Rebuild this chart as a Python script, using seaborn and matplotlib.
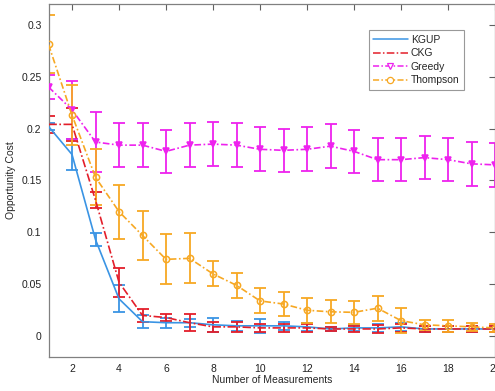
import numpy as np
import pandas as pd
import matplotlib
matplotlib.use("Agg")
import matplotlib.pyplot as plt
import seaborn as sns
from matplotlib.lines import Line2D

sns.set_style("white")
plt.rcParams['font.family'] = ['Liberation Sans', 'DejaVu Sans']

measurements = list(range(1, 21))

kgup_mean = [0.202, 0.175, 0.093, 0.036, 0.014, 0.013, 0.013, 0.011, 0.010, 0.010,
             0.010, 0.009, 0.007, 0.008, 0.008, 0.009, 0.007, 0.007, 0.007, 0.007]
kgup_err = [0.003, 0.015, 0.006, 0.013, 0.006, 0.005, 0.004, 0.007, 0.005, 0.007,
            0.004, 0.004, 0.002, 0.003, 0.004, 0.004, 0.003, 0.003, 0.003, 0.003]

ckg_mean = [0.204, 0.204, 0.131, 0.052, 0.020, 0.018, 0.013, 0.009, 0.009, 0.008,
            0.008, 0.008, 0.007, 0.007, 0.007, 0.008, 0.007, 0.007, 0.007, 0.007]
ckg_err = [0.008, 0.016, 0.008, 0.014, 0.006, 0.003, 0.008, 0.005, 0.005, 0.004,
           0.004, 0.004, 0.002, 0.003, 0.004, 0.004, 0.003, 0.003, 0.003, 0.003]

greedy_mean = [0.240, 0.218, 0.187, 0.184, 0.184, 0.178, 0.184, 0.185, 0.184, 0.180,
               0.179, 0.180, 0.183, 0.178, 0.170, 0.170, 0.172, 0.170, 0.166, 0.165]
greedy_err = [0.012, 0.028, 0.029, 0.021, 0.021, 0.021, 0.021, 0.021, 0.021, 0.021,
              0.021, 0.021, 0.021, 0.021, 0.021, 0.021, 0.021, 0.021, 0.021, 0.021]

thompson_mean = [0.281, 0.213, 0.153, 0.120, 0.097, 0.074, 0.075, 0.060, 0.049, 0.034,
                 0.031, 0.025, 0.0235, 0.023, 0.027, 0.015, 0.011, 0.010, 0.009, 0.008]
thompson_err = [0.028, 0.029, 0.027, 0.026, 0.024, 0.024, 0.024, 0.012, 0.012, 0.012,
                0.012, 0.012, 0.011, 0.011, 0.012, 0.012, 0.005, 0.006, 0.004, 0.004]

series = ["KGUP", "CKG", "Greedy", "Thompson"]
means = [kgup_mean, ckg_mean, greedy_mean, thompson_mean]
errs = [kgup_err, ckg_err, greedy_err, thompson_err]

colors = {"KGUP": "#3a94e4", "CKG": "#e31e2a", "Greedy": "#ee22ee", "Thompson": "#f7a823"}
styles = {"KGUP": "-", "CKG": (0, (5, 1.5, 1, 1.5)), "Greedy": (0, (4, 1.5, 1, 1.5)),
          "Thompson": (0, (4, 1.5, 1, 1.5))}
markers = {"KGUP": None, "CKG": None, "Greedy": "v", "Thompson": "o"}

df = pd.concat([pd.DataFrame({"x": measurements, "y": m, "err": e, "method": s})
                for s, m, e in zip(series, means, errs)], ignore_index=True)

fig = plt.figure(figsize=(4.95, 3.91), dpi=100)
ax = fig.add_axes([0.098, 0.087, 0.902, 0.903])

for s in series:
    d = df[df.method == s]
    ax.errorbar(d.x, d.y, yerr=d.err, fmt="none", ecolor=colors[s], elinewidth=1.3,
                capsize=4, capthick=1.3, zorder=2)
    sns.lineplot(data=d, x="x", y="y", ax=ax, color=colors[s], linestyle=styles[s],
                 linewidth=1.2, marker=markers[s], markersize=4.5,
                 markerfacecolor=(colors[s] if s == "Greedy" else "none"),
                 markeredgecolor=colors[s], markeredgewidth=1.1, legend=False, zorder=3,
                 errorbar=None)

ax.set_xlim(1, 20)
ax.set_ylim(-0.02, 0.32)
ax.set_xticks(range(2, 21, 2))
ax.set_yticks([0, 0.05, 0.1, 0.15, 0.2, 0.25, 0.3])
ax.set_yticklabels(["0", "0.05", "0.1", "0.15", "0.2", "0.25", "0.3"])
ax.tick_params(direction="in", top=True, right=True, length=4, width=0.8,
               labelsize=7.5, colors="#606060", labelcolor="#222222", pad=5)
for sp in ax.spines.values():
    sp.set_color("#808080")
    sp.set_linewidth(0.9)
ax.set_xlabel("Number of Measurements", fontsize=7.5, labelpad=1)
ax.set_ylabel("Opportunity Cost", fontsize=7.5, labelpad=4)

handles = []
for s in series:
    handles.append(Line2D([], [], color=colors[s], linestyle=styles[s], linewidth=1.1,
                          marker=markers[s], markersize=4.5, markerfacecolor="white",
                          markeredgecolor=colors[s], markeredgewidth=0.9))
leg = ax.legend(handles, series, loc="upper left", bbox_to_anchor=(0.718, 0.925),
                fontsize=7.5, frameon=True, fancybox=False, edgecolor="#808080",
                handlelength=3.3, handletextpad=0.3, borderpad=0.4, labelspacing=0.35,
                borderaxespad=0)
leg.get_frame().set_linewidth(0.8)

fig.savefig("out.png", dpi=100)
